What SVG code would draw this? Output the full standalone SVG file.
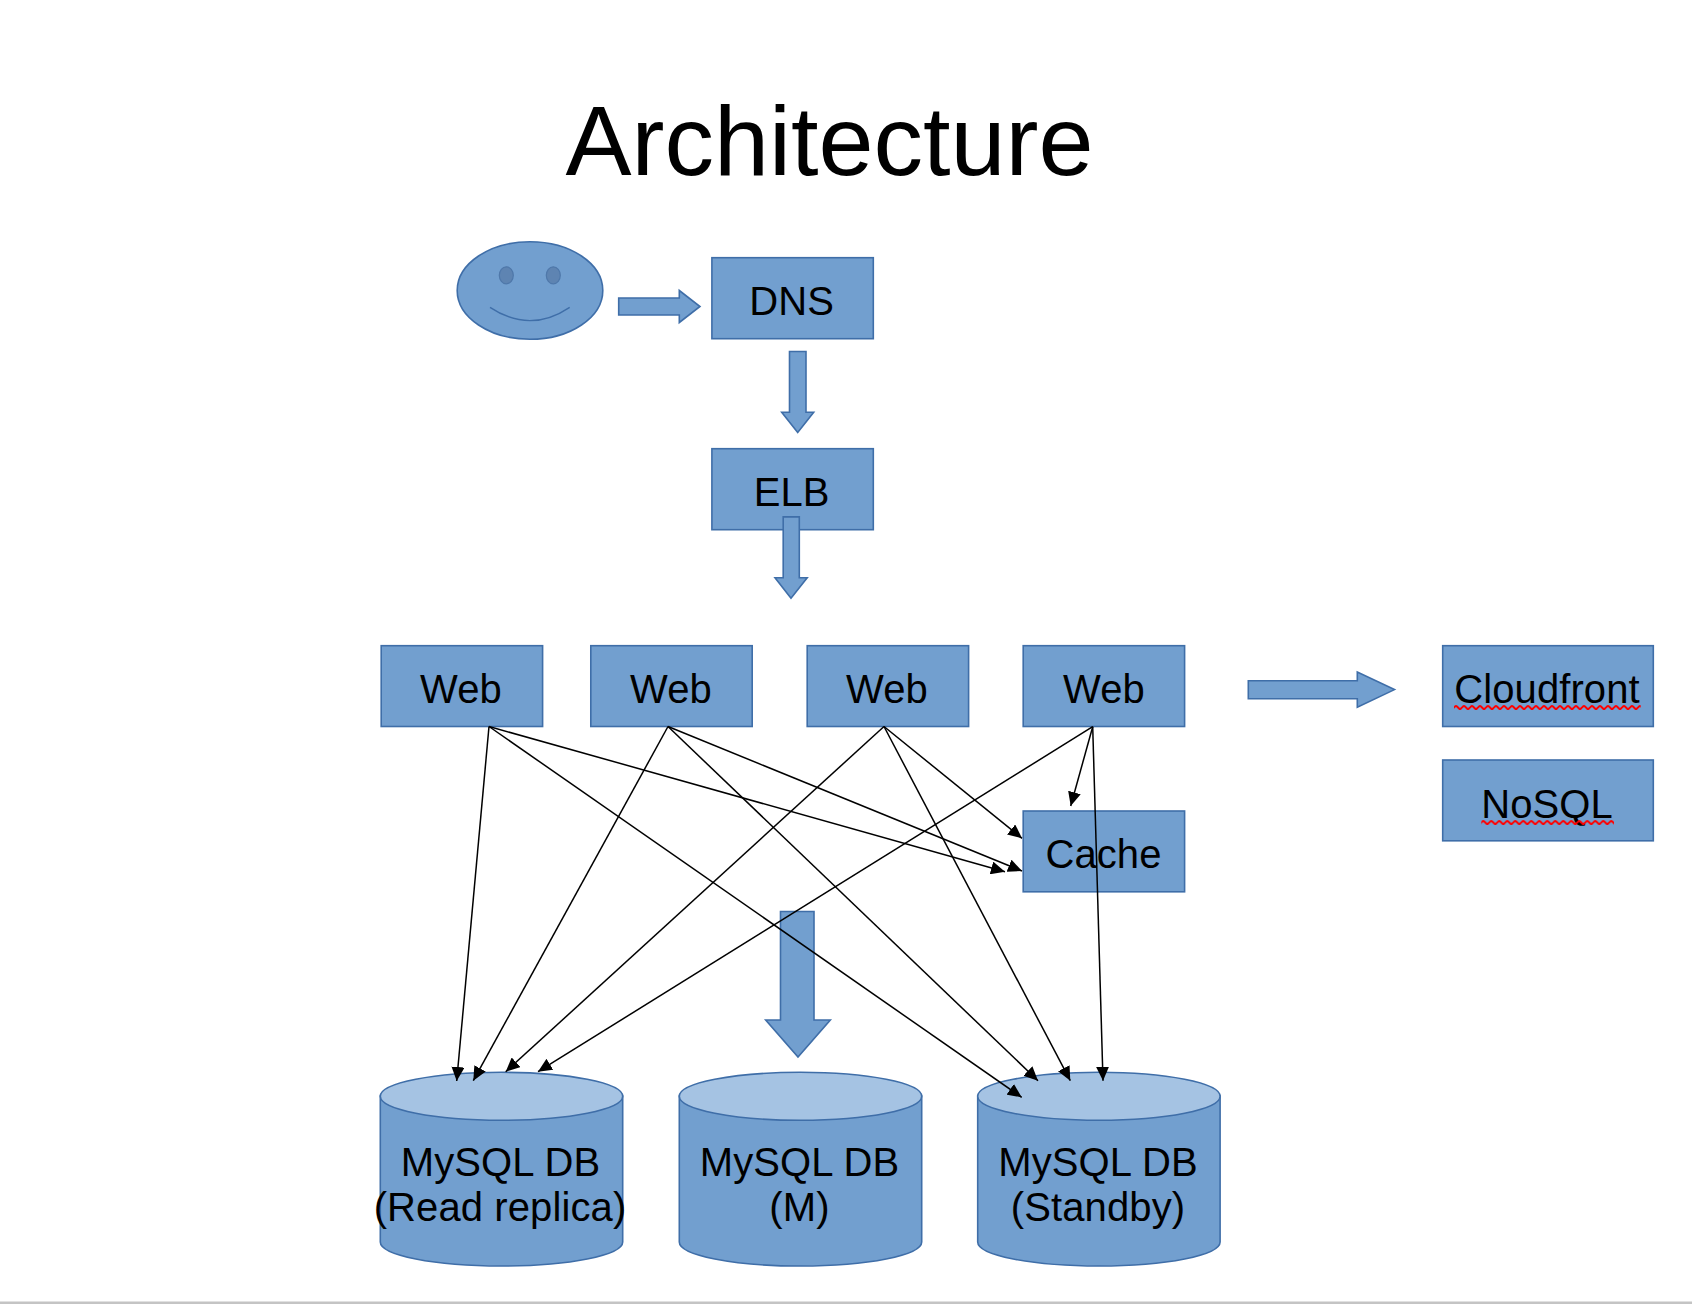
<svg xmlns="http://www.w3.org/2000/svg" width="1692" height="1304" viewBox="0 0 1692 1304">
<style>
.s{fill:#729fcf;stroke:#3f6ea8;stroke-width:1.6}
.top{fill:#a5c3e3;stroke:#3f6ea8;stroke-width:1.6}
.eye{fill:#5e84b2;stroke:#4f78aa;stroke-width:1.2}
.smile{fill:none;stroke:#3f6ea8;stroke-width:1.4}
text{font-family:"Liberation Sans",Arial,sans-serif;font-size:40px;letter-spacing:.1px;fill:#000;text-anchor:middle}
.title{font-size:99px;letter-spacing:0}
.c{stroke:#000;stroke-width:1.5;fill:none;marker-end:url(#ah)}
</style>
<defs>
<marker id="ah" markerUnits="userSpaceOnUse" markerWidth="15" markerHeight="13" refX="14" refY="6.500" orient="auto"><path d="M0 0L14 6.500L0 13Z" fill="#000"/></marker>
<pattern id="sq" patternUnits="userSpaceOnUse" width="8" height="7" x="1454" y="704"><path d="M-1 4.500L1 2.500Q2 1.500 3 2.500L5 4.500Q6 5.500 7 4.500L9 2.500" fill="none" stroke="#f00" stroke-width="1.900"/></pattern>
<pattern id="sq2" patternUnits="userSpaceOnUse" width="8" height="7" x="1481.300" y="819"><path d="M-1 4.500L1 2.500Q2 1.500 3 2.500L5 4.500Q6 5.500 7 4.500L9 2.500" fill="none" stroke="#f00" stroke-width="1.900"/></pattern>
</defs>
<rect width="1692" height="1304" fill="#fff"/>
<text id="title" class="title" x="829.500" y="175">Architecture</text>

<g id="user">
<ellipse class="s" cx="530" cy="290.500" rx="72.800" ry="48.800"/>
<ellipse class="eye" cx="506.300" cy="275.300" rx="7" ry="8.500"/>
<ellipse class="eye" cx="553.300" cy="275.300" rx="7" ry="8.500"/>
<path class="smile" d="M490 307.300Q530 334 569.700 307.300"/>
</g>
<g id="arrow-user-dns"><path class="s" d="M618.700 298H679.300V290.500L700 306.500L679.300 322.500V315H618.700Z"/></g>
<g id="dns"><rect class="s" x="711.900" y="257.700" width="161.400" height="81"/><text x="791.700" y="315.300">DNS</text></g>
<g id="arrow-dns-elb"><path class="s" d="M789.500 351.500H806V412.200H813.700L797.700 432.500L781.700 412.200H789.500Z"/></g>
<g id="elb"><rect class="s" x="711.900" y="448.700" width="161.400" height="81"/><text x="791.700" y="506">ELB</text></g>
<g id="arrow-elb-web"><path class="s" d="M783.200 516.900H799.300V577.700H807.200L791 598.200L775 577.700H783.200Z"/></g>

<g id="web1"><rect class="s" x="381.200" y="645.700" width="161.400" height="80.800"/><text x="461" y="703">Web</text></g>
<g id="web2"><rect class="s" x="590.800" y="645.700" width="161.400" height="80.800"/><text x="671" y="703">Web</text></g>
<g id="web3"><rect class="s" x="807.200" y="645.700" width="161.400" height="80.800"/><text x="887" y="703">Web</text></g>
<g id="web4"><rect class="s" x="1023.200" y="645.700" width="161.400" height="80.800"/><text x="1104" y="703">Web</text></g>
<g id="arrow-web-cloudfront"><path class="s" d="M1248.300 680.700H1357.300V672L1394.500 689.600L1357.300 707.200V698.700H1248.300Z"/></g>
<g id="cloudfront"><rect class="s" x="1442.700" y="645.700" width="210.600" height="80.800"/><text x="1547" y="703.300">Cloudfront</text><rect x="1454" y="704" width="186.700" height="7" fill="url(#sq)"/></g>
<g id="nosql"><rect class="s" x="1442.700" y="760" width="210.600" height="80.800"/><text x="1547" y="818.300">NoSQL</text><rect x="1481.300" y="819" width="132.700" height="7" fill="url(#sq2)"/></g>
<g id="cache"><rect class="s" x="1023.200" y="811" width="161.400" height="80.800"/><text x="1103.500" y="868.300">Cache</text></g>
<g id="arrow-cache-db"><path class="s" d="M780.500 911.500H814V1020H830.300L798 1057L765.700 1020H780.500Z"/></g>

<g id="db-replica">
<path class="s" d="M380.300 1096V1242A121.200 24 0 0 0 622.700 1242V1096Z"/>
<ellipse class="top" cx="501.500" cy="1096.300" rx="121.200" ry="24"/>
<text x="500.500" y="1176">MySQL DB</text><text x="500" y="1221">(Read replica)</text>
</g>
<g id="db-master">
<path class="s" d="M679.300 1096V1242A121.200 24 0 0 0 921.700 1242V1096Z"/>
<ellipse class="top" cx="800.500" cy="1096.300" rx="121.200" ry="24"/>
<text x="799.500" y="1176">MySQL DB</text><text x="799.500" y="1221">(M)</text>
</g>
<g id="db-standby">
<path class="s" d="M977.700 1096V1242A121.200 24 0 0 0 1220.100 1242V1096Z"/>
<ellipse class="top" cx="1098.900" cy="1096.300" rx="121.200" ry="24"/>
<text x="1098" y="1176">MySQL DB</text><text x="1098" y="1221">(Standby)</text>
</g>

<g id="connectors">
<path class="c" d="M489 726.500L456.700 1081"/>
<path class="c" d="M489 726.500L1005 871.700"/>
<path class="c" d="M489 726.500L1021.700 1097.300"/>
<path class="c" d="M668 726.500L473.300 1080.700"/>
<path class="c" d="M668 726.500L1022 871"/>
<path class="c" d="M668 726.500L1038 1080.700"/>
<path class="c" d="M884 726.500L505.700 1071.700"/>
<path class="c" d="M884 726.500L1022 838.300"/>
<path class="c" d="M884 726.500L1070.300 1080.700"/>
<path class="c" d="M1092.700 726.700L1070.700 806"/>
<path class="c" d="M1092.700 726.700L538 1071.700"/>
<path class="c" d="M1092.700 726.700L1103 1080.700"/>
</g>
<rect id="edge" x="0" y="1301.500" width="1692" height="2.500" fill="#c4c4c4"/>
</svg>
